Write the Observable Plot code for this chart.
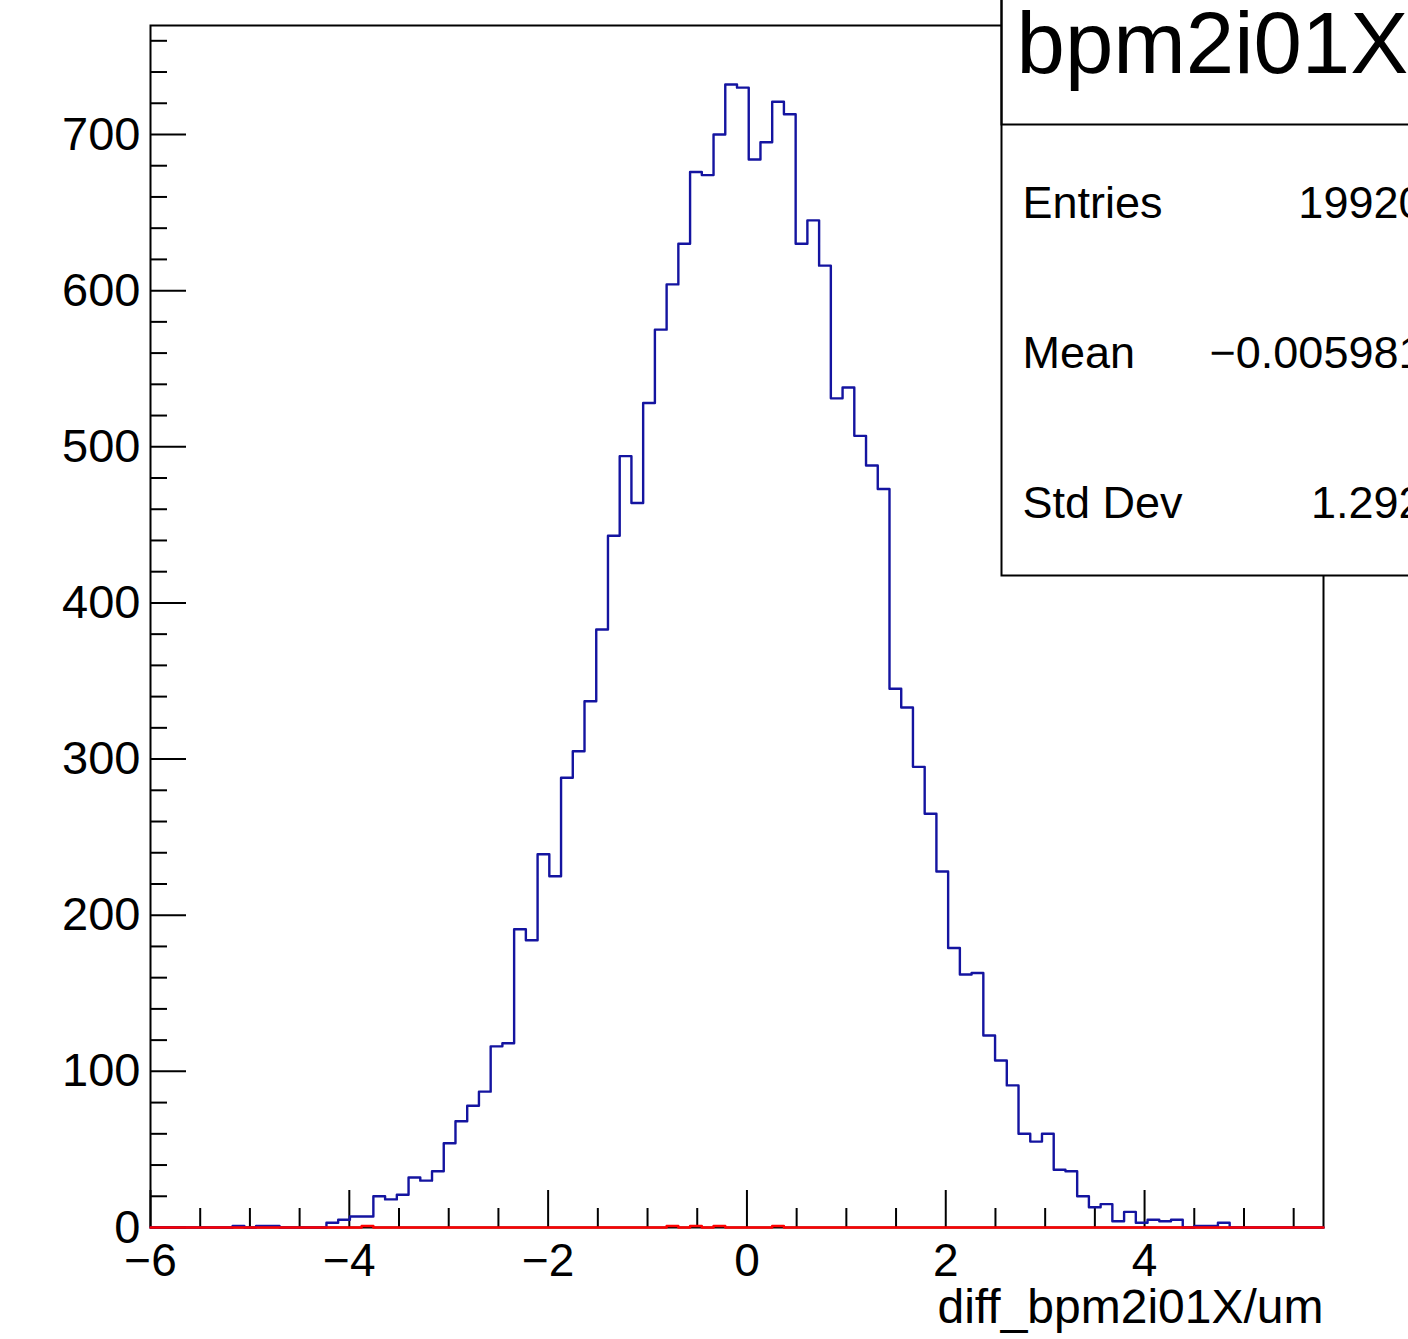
<!DOCTYPE html>
<html>
<head>
<meta charset="utf-8">
<script src="https://cdn.jsdelivr.net/npm/d3@7"></script>
<script src="https://cdn.jsdelivr.net/npm/@observablehq/plot@0.6"></script>
<style>
  html, body { margin: 0; padding: 0; background: #fff; overflow: hidden; }
  #chart { width: 1408px; height: 1339px; }
</style>
</head>
<body>
<div id="chart"></div>
<script>
// ---- data ----
const histTitle = "bpm2i01X";
const xLabel = "diff_bpm2i01X/um";
const xMin = -6, xMax = 5.8, nBins = 100;
const yMax = 769.8;

// blue histogram counts (100 bins)
const blueCounts = [
  0, 0, 0, 0, 0, 0, 0, 1, 0, 1,
  1, 0, 0, 0, 0, 3, 5, 7, 7, 20,
  18, 21, 32, 30, 36, 54, 68, 78, 87, 116,
  118, 191, 184, 239, 225, 288, 305, 337, 383, 443,
  494, 464, 528, 575, 604, 630, 676, 674, 700, 732,
  730, 684, 695, 721, 713, 630, 645, 616, 531, 538,
  507, 488, 473, 345, 333, 295, 265, 228, 179, 162,
  163, 123, 107, 91, 60, 55, 60, 37, 36, 20,
  13, 15, 4, 10, 3, 5, 4, 5, 0, 1,
  1, 3, 0, 0, 0, 0, 0, 0, 0, 0
];

// red histogram counts (100 bins)
const redCounts = [
  0, 0, 0, 0, 0, 0, 0, 0, 0, 0,
  0, 0, 0, 0, 0, 0, 0, 0, 1, 0,
  0, 0, 0, 0, 0, 0, 0, 0, 0, 0,
  0, 0, 0, 0, 0, 0, 0, 0, 0, 0,
  0, 0, 0, 0, 1, 0, 1, 0, 1, 0,
  0, 0, 0, 1, 0, 0, 0, 0, 0, 0,
  0, 0, 0, 0, 0, 0, 0, 0, 0, 0,
  0, 0, 0, 0, 0, 0, 0, 0, 0, 0,
  0, 0, 0, 0, 0, 0, 0, 0, 0, 0,
  0, 0, 0, 0, 0, 0, 0, 0, 0, 0
];

const xMajorTicks = [-6, -4, -2, 0, 2, 4];
const xMinorTicks = [-5.5, -5, -4.5, -3.5, -3, -2.5, -1.5, -1, -0.5, 0.5, 1, 1.5, 2.5, 3, 3.5, 4.5, 5, 5.5];
const yMajorTicks = [0, 100, 200, 300, 400, 500, 600, 700];
const yMinorTicks = [20, 40, 60, 80, 120, 140, 160, 180, 220, 240, 260, 280, 320, 340, 360, 380,
                     420, 440, 460, 480, 520, 540, 560, 580, 620, 640, 660, 680, 720, 740, 760];

const statsNames = ["Entries", "Mean", "Std Dev"];
const statsValues = ["19920", "\u22120.005981", "1.292"];

// ---- build ----
const binWidth = (xMax - xMin) / nBins;
function steps(counts) {
  const pts = counts.map((c, i) => ({x: xMin + i * binWidth, y: c}));
  pts.push({x: xMax, y: 0});
  return pts;
}
const fmt = d => (d < 0 ? "\u2212" + Math.abs(d) : String(d));
const FONT = "'Liberation Sans', Arial, Helvetica, sans-serif";

const chart = Plot.plot({
  width: 1408,
  height: 1339,
  marginLeft: 150,
  marginRight: 85,
  marginTop: 25,
  marginBottom: 112,
  style: {fontFamily: FONT, background: "white", color: "black", overflow: "hidden"},
  x: {domain: [xMin, xMax]},
  y: {domain: [0, yMax]},
  marks: [
    Plot.frame({stroke: "black", strokeWidth: 2}),
    // inward ticks
    Plot.axisX(xMajorTicks, {tickSize: -37, strokeWidth: 2, tickFormat: () => "", label: null}),
    Plot.axisX(xMinorTicks, {tickSize: -19, strokeWidth: 2, tickFormat: () => "", label: null}),
    Plot.axisY(yMajorTicks, {tickSize: -36, strokeWidth: 2, tickFormat: () => "", label: null}),
    Plot.axisY(yMinorTicks, {tickSize: -17, strokeWidth: 2, tickFormat: () => "", label: null}),
    // histograms
    Plot.line(steps(blueCounts), {x: "x", y: "y", curve: "step-after", stroke: "#1414a0", strokeWidth: 2.4}),
    Plot.line(steps(redCounts), {x: "x", y: "y", curve: "step-after", stroke: "#ff0000", strokeWidth: 2.4}),
    // tick labels
    Plot.axisX(xMajorTicks, {tickSize: 0, tickPadding: 16, tickFormat: fmt, fontSize: 46, label: null}),
    Plot.axisY(yMajorTicks, {tickSize: 0, tickPadding: 10, tickFormat: fmt, fontSize: 47, label: null}),
    // axis title
    Plot.text([xLabel], {text: d => d, frameAnchor: "bottom-right", dy: 95, textAnchor: "end", lineAnchor: "bottom", fontSize: 48, fill: "black"}),
    // stats box
    Plot.frame({fill: "white", stroke: "black", strokeWidth: 2, insetLeft: 851, insetRight: -140, insetTop: -40, insetBottom: 652}),
    Plot.frame({stroke: "black", strokeWidth: 2, insetLeft: 851, insetRight: -140, insetTop: -40, insetBottom: 1103}),
    Plot.text([histTitle], {text: d => d, frameAnchor: "top-left", dx: 866, dy: 47, textAnchor: "start", lineAnchor: "bottom", fontSize: 87, fill: "black"}),
    ...statsNames.map((n, i) => Plot.text([n], {text: d => d, frameAnchor: "top-left", dx: 872, dy: 192 + 150 * i, textAnchor: "start", lineAnchor: "bottom", fontSize: 45, fill: "black"})),
    ...statsValues.map((v, i) => Plot.text([v], {text: d => d, frameAnchor: "top-left", dx: 1273, dy: 192 + 150 * i, textAnchor: "end", lineAnchor: "bottom", fontSize: 45, fill: "black"}))
  ]
});
document.getElementById("chart").appendChild(chart);
</script>
</body>
</html>
